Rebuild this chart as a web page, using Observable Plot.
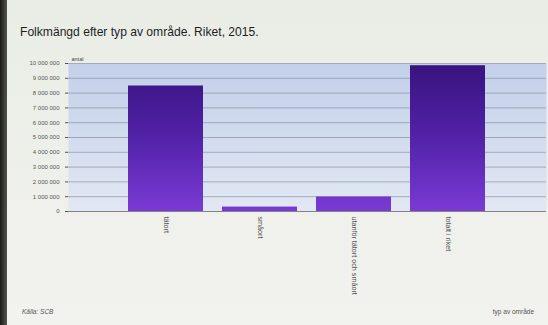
<!DOCTYPE html>
<html><head><meta charset="utf-8">
<script src="https://cdn.jsdelivr.net/npm/d3@7"></script>
<script src="https://cdn.jsdelivr.net/npm/@observablehq/plot@0.6"></script>
<style>
body{margin:0;width:548px;height:325px;overflow:hidden;background:linear-gradient(#eaece6,#f2f3ee);font-family:"Liberation Sans",Arial,sans-serif;position:relative}
#edge{position:absolute;left:0;top:0;width:7px;height:325px;background:linear-gradient(90deg,#1a1a18,#55554f)}
#title{position:absolute;left:20px;top:25px;font-size:12.1px;color:#1e1e1e;white-space:nowrap}
#chart{position:absolute;left:0;top:44px}
.foot{position:absolute;top:308px;font-size:6.5px;color:#555;font-style:italic}
</style></head><body>
<div id="edge"></div>
<div id="title">Folkmängd efter typ av område. Riket, 2015.</div>
<div id="chart"></div>
<div class="foot" style="left:22px">Källa: SCB</div>
<div class="foot" style="right:14px;font-style:normal">typ av område</div>
<script>
const categories = ["tätort", "småort", "utanför tätort och småort", "totalt i riket"];
const values = [8480000, 300000, 980000, 9850000];
const yTicks = [0, 1000000, 2000000, 3000000, 4000000, 5000000, 6000000, 7000000, 8000000, 9000000, 10000000];
const yLabel = "antal";

const data = categories.map((c, i) => ({typ: c, antal: values[i]}));
const fmt = d => d3.format(",")(d).replace(/,/g, " ");

const chart = Plot.plot({
  width: 548,
  height: 281,
  marginLeft: 68,
  marginRight: 2,
  marginTop: 19,
  marginBottom: 114,
  style: {fontSize: "6px", fontFamily: "Liberation Sans, Arial, sans-serif", color: "#555", background: "transparent"},
  x: {domain: categories, padding: 0.2, paddingOuter: 0.63, label: null, tickRotate: 90, tickSize: 0, tickPadding: 5},
  y: {domain: [0, 10000000], ticks: yTicks, tickFormat: fmt, label: null, tickSize: 3},
  marks: [
    Plot.frame({fill: "url(#bgGrad)", stroke: null}),
    Plot.gridY(yTicks, {stroke: "#7d8696", strokeOpacity: 0.75, strokeWidth: 0.8}),
    Plot.barY(data, {x: "typ", y: "antal", fill: "url(#barGrad)"}),
    Plot.ruleY([0], {stroke: "#777", strokeWidth: 0.8}),
    Plot.text([yLabel], {frameAnchor: "top-left", dx: 3, dy: -6, fontSize: 5.5, fill: "#444", textAnchor: "start"})
  ]
});

d3.select(chart).insert("defs", ":first-child").html(`
  <linearGradient id="bgGrad" x1="0" y1="0" x2="0" y2="1">
    <stop offset="0" stop-color="#c3d0ea"/>
    <stop offset="1" stop-color="#e2e8f3"/>
  </linearGradient>
  <linearGradient id="barGrad" x1="0" y1="19" x2="0" y2="167" gradientUnits="userSpaceOnUse">
    <stop offset="0" stop-color="#38137e"/>
    <stop offset="0.5" stop-color="#5222a8"/>
    <stop offset="1" stop-color="#7a3ad4"/>
  </linearGradient>`);

d3.select(chart).selectAll('g[aria-label^="x-axis"]').style("font-size", "7.2px");

document.getElementById("chart").appendChild(chart);
</script>
</body></html>
